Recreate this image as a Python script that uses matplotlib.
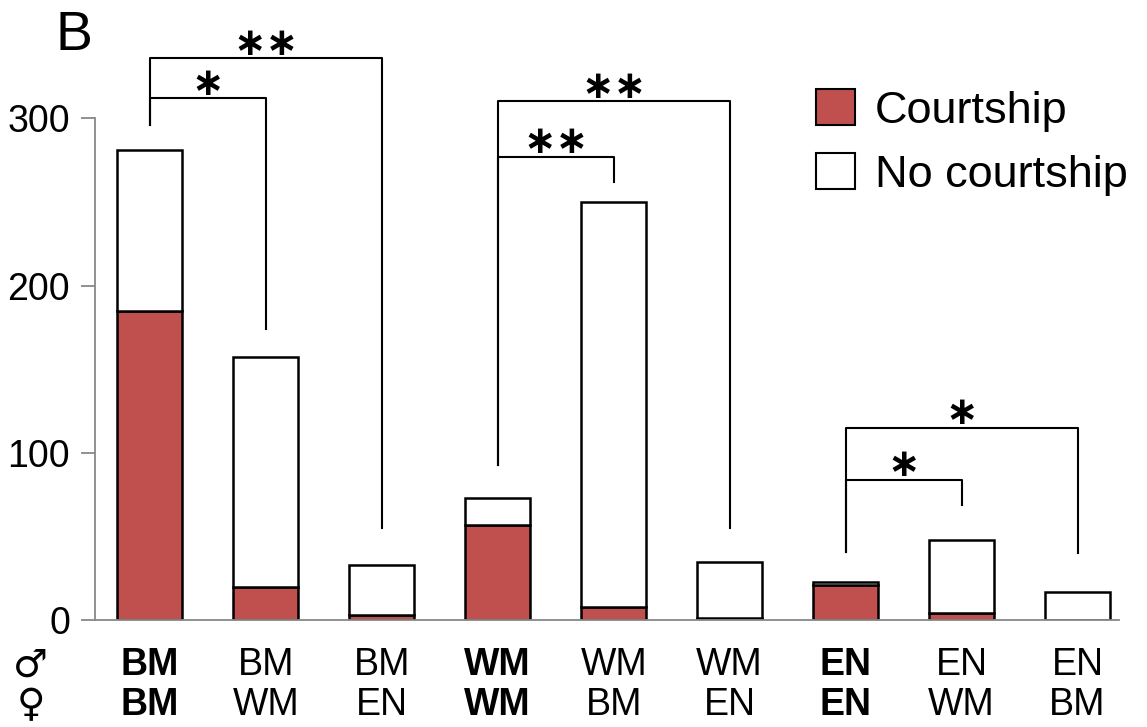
import matplotlib.pyplot as plt
import matplotlib.patches as mpatches
import numpy as np

plt.rcParams['font.family'] = ['Liberation Sans', 'DejaVu Sans']

males = ['BM', 'BM', 'BM', 'WM', 'WM', 'WM', 'EN', 'EN', 'EN']
females = ['BM', 'WM', 'EN', 'WM', 'BM', 'EN', 'EN', 'WM', 'BM']
bold = [True, False, False, True, False, False, True, False, False]
totals = [281, 157, 33, 73, 250, 35, 23, 48, 17]
courtship = [185, 20, 3, 57, 8, 1, 21, 4, 0]

# brackets: (left bar, right bar, left foot, right foot, height, label)
brackets = [
    (0, 2, 296, 55, 336, '\u2217\u2217'),
    (0, 1, 296, 174, 312, '\u2217'),
    (3, 5, 93, 55, 310, '\u2217\u2217'),
    (3, 4, 93, 262, 277, '\u2217\u2217'),
    (6, 8, 41, 40, 115, '\u2217'),
    (6, 7, 41, 69, 84, '\u2217'),
]

red = '#C0504D'
x = np.arange(len(totals))
court = np.array(courtship)
nocourt = np.array(totals) - court

fig = plt.figure(figsize=(11.47, 7.27), dpi=100)
ax = fig.add_axes([0.0828, 0.147, 0.893, 0.794])

ax.bar(x, court, width=0.56, color=red, edgecolor='black', linewidth=1.8)
ax.bar(x, nocourt, bottom=court, width=0.56, color='white', edgecolor='black', linewidth=1.8)

for l, r, yl, yr, h, lab in brackets:
    ax.plot([l, l, r, r], [yl, h, h, yr], color='black', lw=1.5, clip_on=False)
    ax.text((l + r) / 2, h + 8.5, lab, ha='center', va='center', fontsize=28,
            fontweight='bold', family='DejaVu Sans', clip_on=False)

ax.set_xlim(-0.474, 8.36)
ax.set_ylim(0, 345)
ax.set_yticks([0, 100, 200, 300])
ax.tick_params(axis='y', labelsize=27, length=10, color='#888888', width=1.3, pad=8)
ax.set_xticks([])
for s in ['top', 'right']:
    ax.spines[s].set_visible(False)
ax.spines['left'].set_bounds(0, 300)
ax.spines['left'].set_color('#888888')
ax.spines['bottom'].set_color('#888888')
ax.spines['left'].set_linewidth(1.3)
ax.spines['bottom'].set_linewidth(1.3)

for i in range(len(x)):
    w = 'bold' if bold[i] else 'normal'
    ax.text(x[i], -27, males[i], ha='center', va='center', fontsize=27, fontweight=w, clip_on=False)
    ax.text(x[i], -51, females[i], ha='center', va='center', fontsize=27, fontweight=w, clip_on=False)
ax.text(-1.03, -27, '\u2642', ha='center', va='center', fontsize=28, fontweight='bold', family='DejaVu Sans')
ax.text(-1.03, -51, '\u2640', ha='center', va='center', fontsize=28, fontweight='bold', family='DejaVu Sans')

fig.text(0.048, 0.95, 'B', fontsize=40, ha='left', va='center')

handles = [mpatches.Patch(facecolor=red, edgecolor='black', linewidth=1.5, label='Courtship'),
           mpatches.Patch(facecolor='white', edgecolor='black', linewidth=1.5, label='No courtship')]
fig.legend(handles=handles, loc='upper left', bbox_to_anchor=(0.7114, 0.8776), frameon=False,
           fontsize=32.5, handlelength=0.87, handleheight=0.85, handletextpad=0.44,
           labelspacing=0.48, borderpad=0, borderaxespad=0)

fig.savefig('out.png', dpi=100)
